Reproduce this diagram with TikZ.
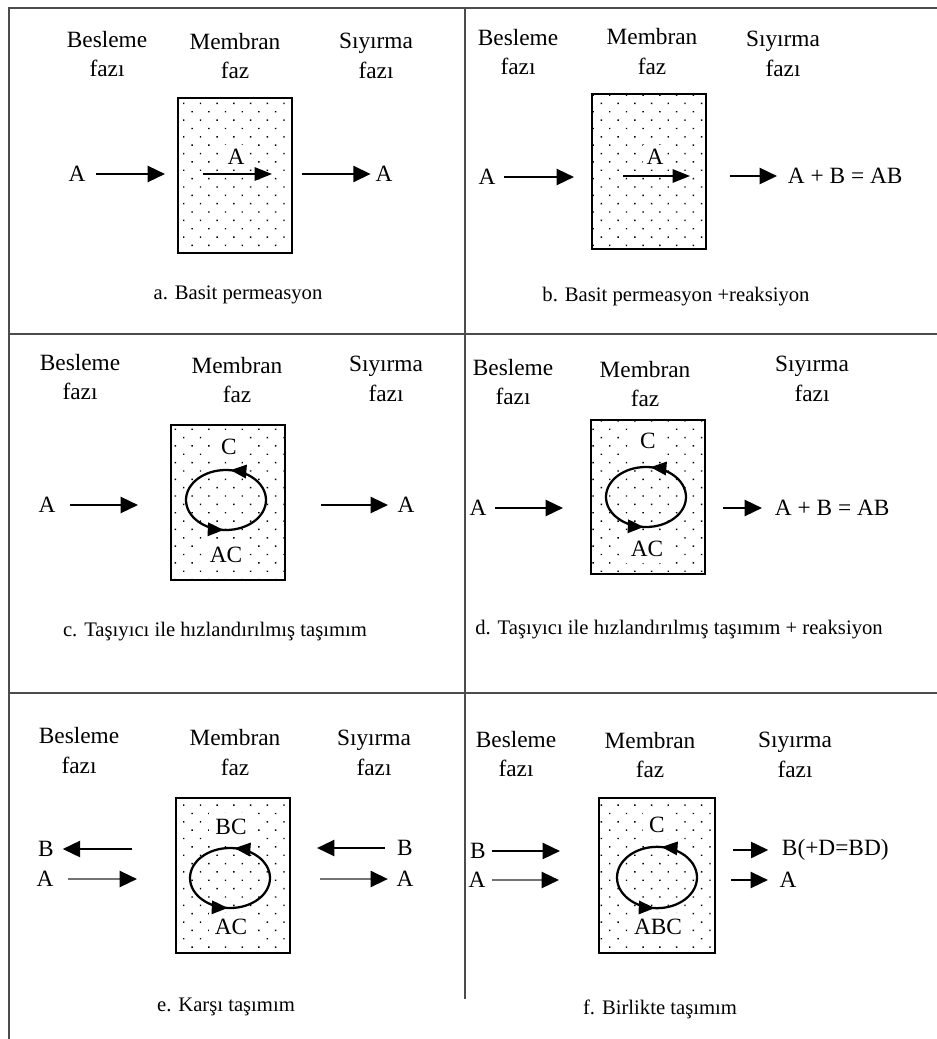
\documentclass[tikz,border=0pt]{standalone}
\usepackage{fontspec}
\setmainfont{Liberation Serif}
\usetikzlibrary{arrows.meta,patterns.meta,decorations.markings}

\tikzset{
  head/.style={align=center, font=\fontsize{17.5}{22}\selectfont},
  lbl/.style={font=\fontsize{17.5}{20}\selectfont, inner sep=2pt},
  inlbl/.style={lbl, fill=white, inner sep=4.5pt},
  capt/.style={font=\fontsize{15.5}{18}\selectfont},
  membrane/.style={draw, line width=1.5pt, minimum width=85.5pt, minimum height=116pt,
    inner sep=0pt, pattern={Dots[distance=8.86pt, angle=45, radius=0.75pt]}, pattern color=black},
  flow/.style={line width=1.8pt, -{Triangle[length=13pt,width=12pt]}},
  flowgray/.style={flow, draw=black!55, -{Triangle[length=13pt,width=12pt,color=black]}},
  inflow/.style={line width=1.2pt, -{Triangle[length=13pt,width=10pt]}},
  carrier/.style={line width=1.7pt, postaction={decorate}, decoration={markings,
    mark=at position 0.23 with {\arrow{Triangle[length=12pt,width=10pt]}},
    mark=at position 0.74 with {\arrow{Triangle[length=12pt,width=10pt]}}}},
  frame/.style={line width=1.6pt, black!70}
}

\begin{document}
\begin{tikzpicture}[x=0.75pt, y=-0.75pt]
\useasboundingbox (0,0) rectangle (937,1039);

% frame
\draw[frame] (9,1039) -- (9,8) -- (937,8);
\draw[frame] (9,334) -- (937,334);
\draw[frame] (9,693) -- (937,693);
\draw[frame] (465,8) -- (465,999);

% a. simple permeation
\node[head] (a-feed) at (107,54) {Besleme\\fazı};
\node[head] (a-mhead) at (235,56) {Membran\\faz};
\node[head] (a-strip) at (376,56) {Sıyırma\\fazı};
\node[membrane] (a-mem) at (235,175.5) {};
\node[lbl] (a-in) at (77,174) {A};
\coordinate (a-l) at (165,174);
\draw[flow, shorten <=6pt] (a-in) -- (a-l);
\node[inlbl, inner sep=3pt] (a-mid) at (236,157) {A};
\coordinate (a-i1) at (203,174);
\coordinate (a-i2) at (272,174);
\draw[inflow] (a-i1) -- (a-i2);
\coordinate (a-r) at (302,174);
\node[lbl] (a-out) at (384,174) {A};
\draw[flow, shorten >=1.5pt] (a-r) -- (a-out);
\node[capt] (a-cap) at (238,295) {a. Basit permeasyon};

% b. simple permeation + reaction
\node[head] (b-feed) at (518,52) {Besleme\\fazı};
\node[head] (b-mhead) at (652,51.5) {Membran\\faz};
\node[head] (b-strip) at (783,54) {Sıyırma\\fazı};
\node[membrane] (b-mem) at (649,171.5) {};
\node[lbl] (b-in) at (487,177) {A};
\coordinate (b-l) at (574,177);
\draw[flow, shorten <=4.5pt] (b-in) -- (b-l);
\node[inlbl, inner sep=3pt] (b-mid) at (655,157) {A};
\coordinate (b-i1) at (623,176);
\coordinate (b-i2) at (690,176);
\draw[inflow] (b-i1) -- (b-i2);
\coordinate (b-r) at (730,176);
\node[lbl, anchor=west] (b-out) at (785,176) {A + B = AB};
\draw[flow, shorten >=6pt] (b-r) -- (b-out);
\node[capt] (b-cap) at (676,297) {b. Basit permeasyon +reaksiyon};

% c. carrier facilitated transport
\node[head] (c-feed) at (80,377) {Besleme\\fazı};
\node[head] (c-mhead) at (237,380) {Membran\\faz};
\node[head] (c-strip) at (386,379) {Sıyırma\\fazı};
\node[membrane] (c-mem) at (228,502.5) {};
\node[lbl] (c-in) at (47,505) {A};
\coordinate (c-l) at (138,505);
\draw[flow, shorten <=8.5pt] (c-in) -- (c-l);
\node[inlbl] (c-top) at (229,447) {C};
\node[inlbl] (c-bot) at (226,555) {AC};
\coordinate (c-ell) at (226,500);
\draw[carrier] (c-ell) ellipse [x radius=30pt, y radius=22.5pt];
\coordinate (c-r) at (321,505);
\node[lbl] (c-out) at (406,505) {A};
\draw[flow, shorten >=5pt] (c-r) -- (c-out);
\node[capt] (c-cap) at (215,632) {c. Taşıyıcı ile hızlandırılmış taşımım};

% d. carrier facilitated transport + reaction
\node[head] (d-feed) at (513,382) {Besleme\\fazı};
\node[head] (d-mhead) at (645,384) {Membran\\faz};
\node[head] (d-strip) at (812,379) {Sıyırma\\fazı};
\node[membrane] (d-mem) at (647.5,497) {};
\node[lbl] (d-in) at (478,508) {A};
\coordinate (d-l) at (563,508);
\draw[flow, shorten <=4pt] (d-in) -- (d-l);
\node[inlbl] (d-top) at (648,441) {C};
\node[inlbl] (d-bot) at (647,549) {AC};
\coordinate (d-ell) at (646,497);
\draw[carrier] (d-ell) ellipse [x radius=30pt, y radius=22.5pt];
\coordinate (d-r) at (723,508);
\node[lbl, anchor=west] (d-out) at (772,508) {A + B = AB};
\draw[flow, shorten >=7.5pt] (d-r) -- (d-out);
\node[capt] (d-cap) at (679,630) {d. Taşıyıcı ile hızlandırılmış taşımım + reaksiyon};

% e. counter transport
\node[head] (e-feed) at (79,750.5) {Besleme\\fazı};
\node[head] (e-mhead) at (235,752.5) {Membran\\faz};
\node[head] (e-strip) at (374,753) {Sıyırma\\fazı};
\node[membrane] (e-mem) at (233,875.5) {};
\node[lbl] (e-inB) at (46,849) {B};
\coordinate (e-lb) at (132,849);
\draw[flow, shorten >=4.5pt] (e-lb) -- (e-inB);
\node[lbl] (e-inA) at (45,879) {A};
\coordinate (e-la) at (137,879);
\draw[flowgray, shorten <=9pt] (e-inA) -- (e-la);
\node[inlbl] (e-top) at (231,827) {BC};
\node[inlbl] (e-bot) at (231,927) {AC};
\coordinate (e-ell) at (230,878);
\draw[carrier] (e-ell) ellipse [x radius=30pt, y radius=22.5pt];
\node[lbl] (e-outB) at (405,848) {B};
\coordinate (e-rb) at (317,848);
\draw[flow, shorten <=7pt] (e-outB) -- (e-rb);
\node[lbl] (e-outA) at (405,879) {A};
\coordinate (e-ra) at (320,879);
\draw[flowgray, shorten >=4.3pt] (e-ra) -- (e-outA);
\node[capt] (e-cap) at (226,1007) {e. Karşı taşımım};

% f. co-transport
\node[head] (f-feed) at (516,754) {Besleme\\fazı};
\node[head] (f-mhead) at (650,755) {Membran\\faz};
\node[head] (f-strip) at (795,755) {Sıyırma\\fazı};
\node[membrane, minimum width=87pt] (f-mem) at (657,875.5) {};
\node[lbl] (f-inB) at (478,851) {B};
\coordinate (f-lb) at (560,851);
\draw[flow, shorten <=2.5pt] (f-inB) -- (f-lb);
\node[lbl] (f-inA) at (477,880) {A};
\coordinate (f-la) at (559,880);
\draw[flowgray, shorten <=2.8pt] (f-inA) -- (f-la);
\node[inlbl] (f-top) at (657,825) {C};
\node[inlbl] (f-bot) at (658,927) {ABC};
\coordinate (f-ell) at (657,877.5);
\draw[carrier] (f-ell) ellipse [x radius=30pt, y radius=23pt];
\coordinate (f-rb) at (733,850);
\node[lbl, anchor=west] (f-outB) at (779,850) {B(+D=BD)};
\draw[flow, shorten >=8pt] (f-rb) -- (f-outB);
\coordinate (f-ra) at (731,880);
\node[lbl] (f-outA) at (788,880) {A};
\draw[flow, shorten >=6.5pt] (f-ra) -- (f-outA);
\node[capt] (f-cap) at (660,1009) {f. Birlikte taşımım};
\end{tikzpicture}
\end{document}
